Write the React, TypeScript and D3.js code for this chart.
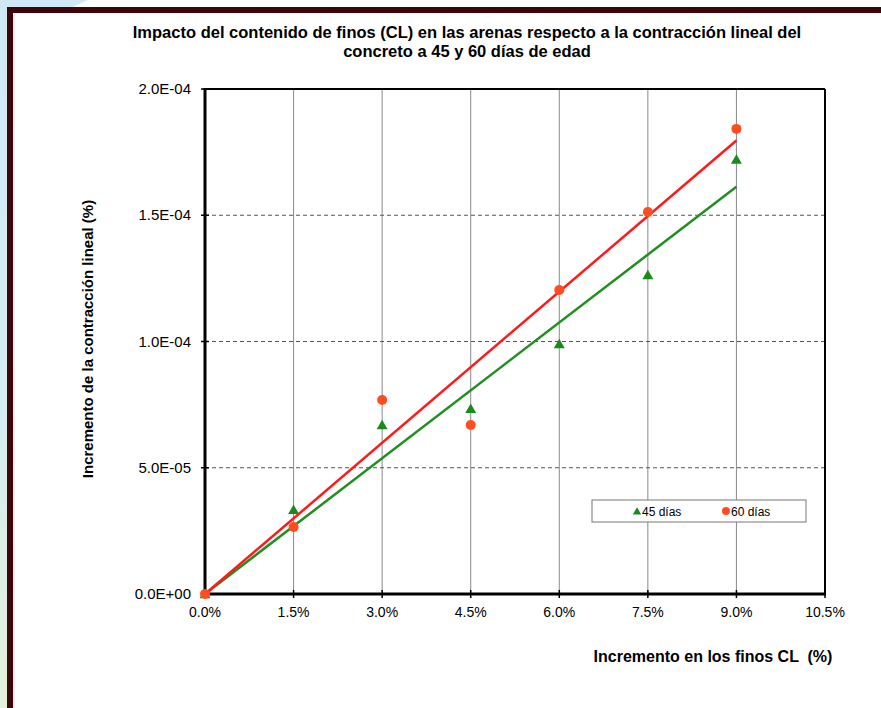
import React from "react";
import * as d3 from "d3";

const xTicks = [0, 1.5, 3.0, 4.5, 6.0, 7.5, 9.0, 10.5];
const yTicks = [0, 5e-5, 1e-4, 1.5e-4, 2e-4];
const yTickLabels = ["0.0E+00", "5.0E-05", "1.0E-04", "1.5E-04", "2.0E-04"];
const finos = [0, 1.5, 3.0, 4.5, 6.0, 7.5, 9.0];
const dias45 = [0, 3.33e-5, 6.69e-5, 7.33e-5, 9.9e-5, 1.263e-4, 1.72e-4];
const dias60 = [0, 2.65e-5, 7.68e-5, 6.69e-5, 1.204e-4, 1.513e-4, 1.842e-4];
const seriesNames = ["45 días", "60 días"];
const titleLines = [
  "Impacto del contenido de finos (CL) en las arenas respecto a la contracción lineal del",
  "concreto a 45 y 60 días de edad",
];
const xLabel = "Incremento en los finos CL  (%)";
const yLabel = "Incremento de la contracción lineal (%)";

const GREEN = "#1a8a1a";
const GREEN_LINE = "#1f8f1f";
const RED_MARK = "#ff4d1f";
const RED_LINE = "#ff1a1a";

function slopeThroughOrigin(xs: number[], ys: number[]) {
  let sxy = 0, sxx = 0;
  xs.forEach((x, i) => { sxy += x * ys[i]; sxx += x * x; });
  return sxy / sxx;
}

export default function App() {
  const W = 881, H = 708;
  const left = 205, right = 825, top = 89, bottom = 594;
  const x = d3.scaleLinear().domain([0, 10.5]).range([left, right]);
  const y = d3.scaleLinear().domain([0, 2e-4]).range([bottom, top]);
  const font = "Arial, 'Liberation Sans', Helvetica, sans-serif";

  const s45 = slopeThroughOrigin(finos, dias45);
  const s60 = slopeThroughOrigin(finos, dias60);
  const xMax = d3.max(finos) as number;
  const line = d3.line<[number, number]>().x(d => x(d[0])).y(d => y(d[1]));

  const tri = d3.symbol().type(d3.symbolTriangle).size(52)();
  const triSmall = d3.symbol().type(d3.symbolTriangle).size(30)();

  return (
    <svg width={W} height={H} style={{ position: "absolute", left: 0, top: 0 }} fontFamily={font}>
      <defs>
        <linearGradient id="leftbg" x1="0" y1="0" x2="0" y2="1">
          <stop offset="0" stopColor="#cfe9f6" />
          <stop offset="0.6" stopColor="#d6ecf0" />
          <stop offset="1" stopColor="#e2f2dc" />
        </linearGradient>
      </defs>
      <rect x={0} y={0} width={W} height={H} fill="#ffffff" />
      <rect x={0} y={0} width={8} height={H} fill="url(#leftbg)" />
      <path d="M0,0 L88,0 Q80,4 70,8 L0,8 Z" fill="#cfe9f6" />
      <rect x={10} y={10} width={W + 10} height={H + 10} fill="#ffffff" stroke="#3d0709" strokeWidth={6} />
      <line x1={14} y1={14} x2={14} y2={H} stroke="#d8d8d8" strokeWidth={1} />

      {/* title */}
      {titleLines.map((t, i) => (
        <text key={i} x={467} y={38 + i * 19} textAnchor="middle" fontSize={16.5} fontWeight="bold" fill="#000">
          {t}
        </text>
      ))}

      {/* grid */}
      {xTicks.slice(1, -1).map(v => (
        <line key={"gx" + v} x1={x(v)} x2={x(v)} y1={top} y2={bottom} stroke="#8a8a8a" strokeWidth={1} />
      ))}
      {yTicks.slice(1, -1).map(v => (
        <line key={"gy" + v} x1={left} x2={right} y1={y(v)} y2={y(v)} stroke="#555" strokeWidth={1} strokeDasharray="4,3" />
      ))}

      {/* frame */}
      <line x1={left} x2={right} y1={top} y2={top} stroke="#000" strokeWidth={2} />
      <line x1={right} x2={right} y1={top} y2={bottom} stroke="#000" strokeWidth={2} />
      <line x1={left} x2={left} y1={top - 1} y2={bottom + 1} stroke="#000" strokeWidth={3} />
      <line x1={left - 1} x2={right + 1} y1={bottom} y2={bottom} stroke="#000" strokeWidth={3} />

      {/* ticks */}
      {yTicks.map(v => (
        <line key={"ty" + v} x1={left - 4} x2={left + 4} y1={y(v)} y2={y(v)} stroke="#000" strokeWidth={1.5} />
      ))}
      {xTicks.map(v => (
        <line key={"tx" + v} x1={x(v)} x2={x(v)} y1={bottom - 4} y2={bottom + 4} stroke="#000" strokeWidth={1.5} />
      ))}

      {/* tick labels */}
      {yTicks.map((v, i) => (
        <text key={"ly" + v} x={191} y={y(v) + 5} textAnchor="end" fontSize={15} fill="#000">
          {yTickLabels[i]}
        </text>
      ))}
      {xTicks.map(v => (
        <text key={"lx" + v} x={x(v)} y={617} textAnchor="middle" fontSize={14} fill="#000">
          {v.toFixed(1) + "%"}
        </text>
      ))}

      {/* axis labels */}
      <text x={713} y={662} textAnchor="middle" fontSize={16} fontWeight="bold" fill="#000" style={{ whiteSpace: "pre" }}>{xLabel}</text>
      <text transform={`translate(93,339) rotate(-90)`} textAnchor="middle" fontSize={15} fontWeight="bold" fill="#000">
        {yLabel}
      </text>

      {/* trend lines */}
      <path d={line([[0, 0], [xMax, s45 * xMax]]) || ""} stroke={GREEN_LINE} strokeWidth={2.5} fill="none" />
      <path d={line([[0, 0], [xMax, s60 * xMax]]) || ""} stroke={RED_LINE} strokeWidth={2.5} fill="none" />

      {/* markers */}
      {finos.map((f, i) => (
        <path key={"m45" + i} d={tri || ""} transform={`translate(${x(f)},${y(dias45[i]) + 1})`} fill={GREEN} />
      ))}
      {finos.map((f, i) => (
        <circle key={"m60" + i} cx={x(f)} cy={y(dias60[i])} r={5} fill={RED_MARK} />
      ))}

      {/* legend */}
      <rect x={592} y={500} width={214} height={22} fill="#fff" stroke="#777" strokeWidth={1} />
      <path d={triSmall || ""} transform="translate(637,512)" fill={GREEN} />
      <text x={642} y={516} fontSize={12} fill="#000">{seriesNames[0]}</text>
      <circle cx={726} cy={511} r={4} fill={RED_MARK} />
      <text x={731} y={516} fontSize={12} fill="#000">{seriesNames[1]}</text>
    </svg>
  );
}
